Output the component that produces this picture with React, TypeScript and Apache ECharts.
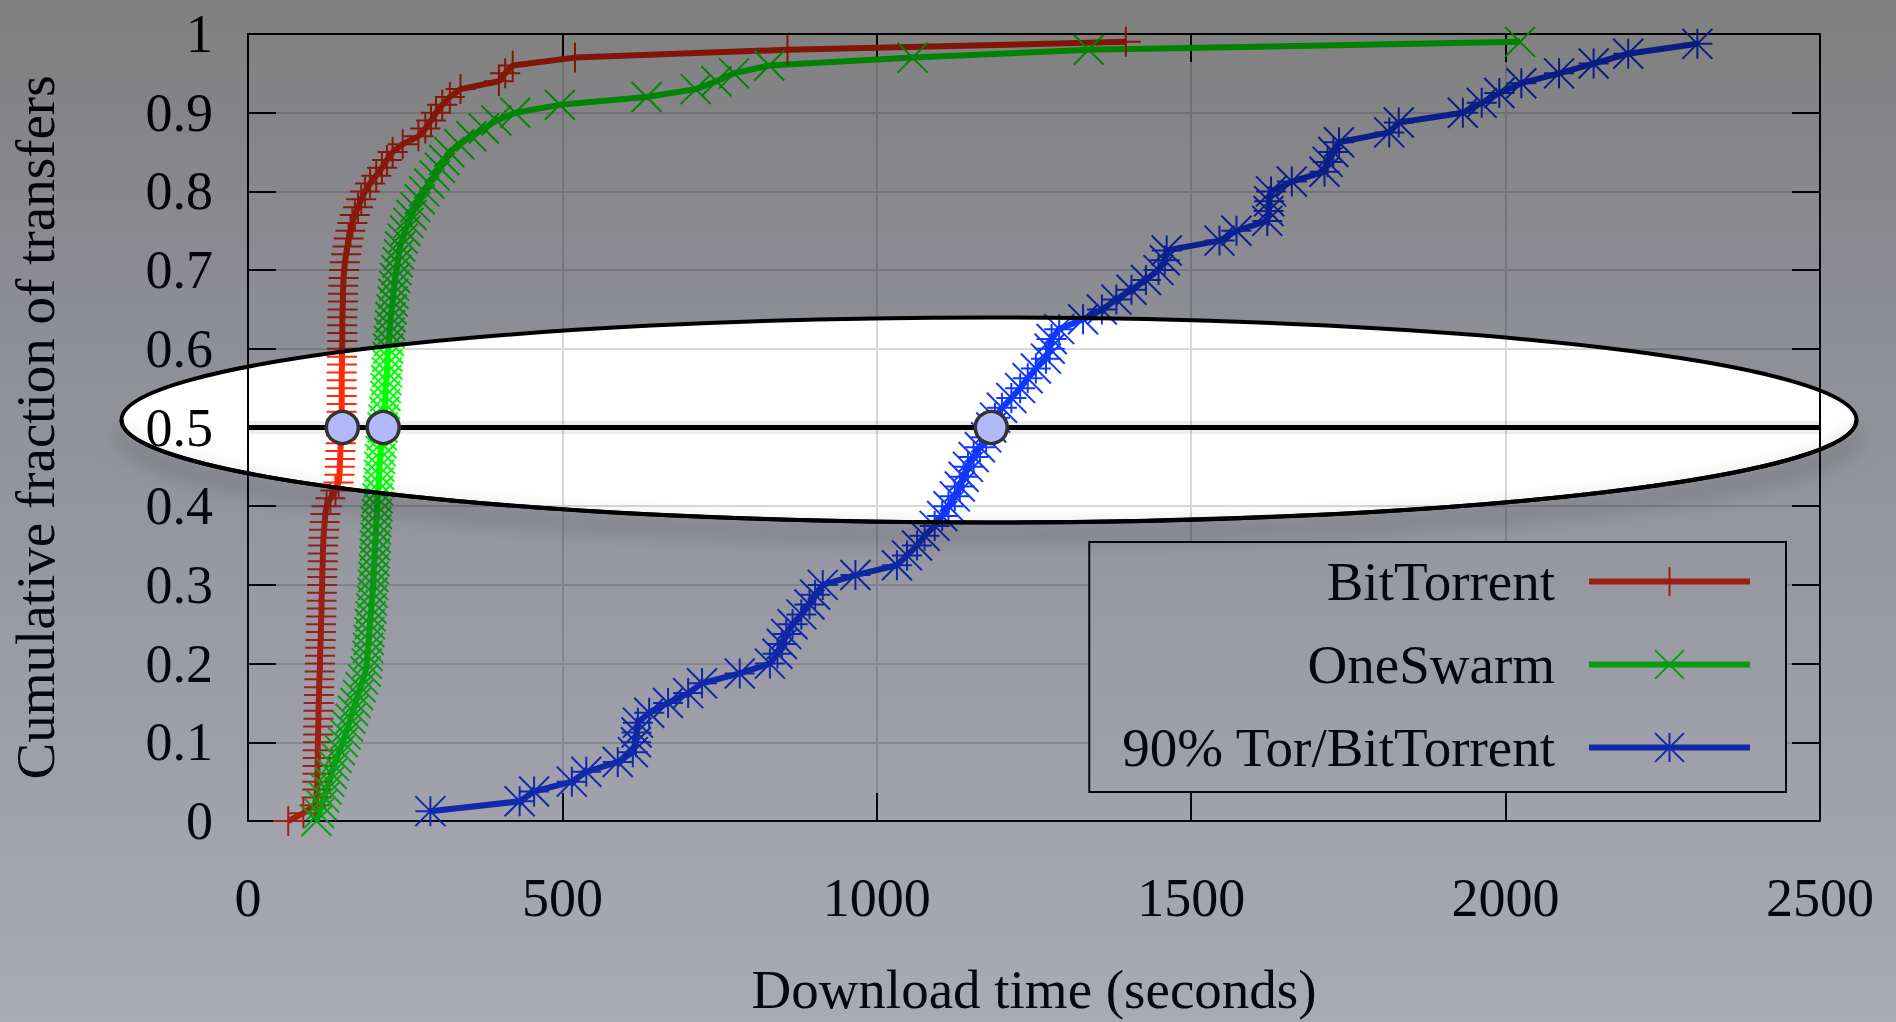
import React, { useEffect, useRef } from "react";
import * as echarts from "echarts";

// ---------- data ----------
const seriesNames = ["BitTorrent", "OneSwarm", "90% Tor/BitTorrent"];
const xTickMin = 0;
const xTickMax = 2500;
const xTickStep = 500;
const yTickMin = 0;
const yTickMax = 1;
const yTickStep = 0.1;

// [download time (s), cumulative fraction]
const bitTorrent: [number, number][] = [
  [64, 0], [88, 0.01], [106, 0.02], [109, 0.03], [110, 0.04], [110, 0.05], [110.5, 0.06], [110.5, 0.07], [111, 0.08], [111, 0.09],
  [111, 0.1], [111.5, 0.11], [111.5, 0.12], [112, 0.13], [112, 0.14], [112.5, 0.15], [113, 0.16], [113, 0.17], [113.5, 0.18], [114, 0.19],
  [114.5, 0.2], [114.5, 0.21], [115, 0.22], [115.5, 0.23], [116, 0.24], [116, 0.25], [116.5, 0.26], [117, 0.27], [117, 0.28], [117.5, 0.29],
  [118, 0.3], [118, 0.31], [118.5, 0.32], [119, 0.33], [119, 0.34], [119.5, 0.35], [120, 0.36], [121, 0.37], [122, 0.38], [123, 0.39],
  [125, 0.4], [131, 0.41], [139, 0.42], [144, 0.43], [145.5, 0.44], [146, 0.45], [146.5, 0.46], [147, 0.47], [147.5, 0.48], [148, 0.49],
  [148.5, 0.5], [148.5, 0.51], [149, 0.52], [149, 0.53], [149, 0.54], [149, 0.55], [149, 0.56], [149, 0.57], [149.5, 0.58], [149.5, 0.59],
  [149.5, 0.6], [150, 0.61], [150, 0.62], [150, 0.63], [150, 0.64], [150.5, 0.65], [151, 0.66], [151, 0.67], [151.5, 0.68], [152, 0.69],
  [153, 0.7], [154, 0.71], [156, 0.72], [158, 0.73], [160, 0.74], [163, 0.75], [166, 0.76], [170, 0.77], [175, 0.78], [180, 0.79],
  [186, 0.8], [194, 0.81], [204, 0.82], [213, 0.83], [221, 0.84], [230, 0.85], [246, 0.86], [271, 0.87], [282, 0.88], [291, 0.89],
  [299, 0.9], [309, 0.91], [321, 0.92], [338, 0.93], [399, 0.94], [409, 0.95], [421, 0.96], [520, 0.97], [858, 0.98], [1396, 0.99],
];

const oneSwarm: [number, number][] = [
  [109, 0], [113, 0.01], [117, 0.02], [121, 0.03], [125, 0.04], [129, 0.05], [133, 0.06], [137, 0.07], [141, 0.08], [146, 0.09],
  [151, 0.1], [155, 0.11], [159, 0.12], [163, 0.13], [167, 0.14], [171, 0.15], [175, 0.16], [179, 0.17], [183, 0.18], [187, 0.19],
  [189, 0.2], [190, 0.21], [191, 0.22], [192, 0.23], [193, 0.24], [194, 0.25], [195, 0.26], [196, 0.27], [197, 0.28], [198, 0.29],
  [199, 0.3], [199.5, 0.31], [200, 0.32], [201, 0.33], [201.5, 0.34], [202, 0.35], [203, 0.36], [203.5, 0.37], [204, 0.38], [205, 0.39],
  [205.5, 0.4], [206, 0.41], [207, 0.42], [208, 0.43], [208.5, 0.44], [209, 0.45], [210, 0.46], [211, 0.47], [212, 0.48], [213, 0.49],
  [214, 0.5], [215.5, 0.51], [217, 0.52], [218, 0.53], [218.5, 0.54], [219, 0.55], [220, 0.56], [221, 0.57], [221.5, 0.58], [222, 0.59],
  [223, 0.6], [224, 0.61], [225, 0.62], [226, 0.63], [227, 0.64], [228.5, 0.65], [230, 0.66], [231, 0.67], [232.5, 0.68], [234, 0.69],
  [236, 0.7], [238, 0.71], [240, 0.72], [242, 0.73], [246, 0.74], [250, 0.75], [255, 0.76], [260, 0.77], [266, 0.78], [273, 0.79],
  [280, 0.8], [288, 0.81], [297, 0.82], [305, 0.83], [312, 0.84], [320, 0.85], [336, 0.86], [355, 0.87], [375, 0.88], [395, 0.89],
  [425, 0.9], [496, 0.91], [634, 0.92], [712, 0.93], [745, 0.94], [773, 0.95], [829, 0.96], [1057, 0.97], [1337, 0.98], [2023, 0.99],
];

const torBitTorrent: [number, number][] = [
  [290, 0.0125], [432, 0.025], [455, 0.0375], [515, 0.05], [538, 0.0625], [588, 0.075], [612, 0.0875], [617, 0.1], [618, 0.1125], [620, 0.125],
  [638, 0.1375], [668, 0.15], [700, 0.1625], [722, 0.175], [782, 0.1875], [830, 0.2], [842, 0.2125], [849, 0.225], [856, 0.2375], [866, 0.25],
  [880, 0.2625], [893, 0.275], [902, 0.2875], [914, 0.3], [966, 0.3125], [1032, 0.325], [1048, 0.3375], [1064, 0.35], [1076, 0.3625], [1092, 0.375],
  [1104, 0.3875], [1114, 0.4], [1124, 0.4125], [1132, 0.425], [1138, 0.4375], [1145, 0.45], [1154, 0.4625], [1164, 0.475], [1174, 0.4875], [1182, 0.5],
  [1188, 0.5125], [1199, 0.525], [1214, 0.5375], [1228, 0.55], [1240, 0.5625], [1253, 0.575], [1269, 0.5875], [1275, 0.6], [1278, 0.6125], [1290, 0.625],
  [1328, 0.6375], [1358, 0.65], [1381, 0.6625], [1405, 0.675], [1428, 0.6875], [1448, 0.7], [1458, 0.7125], [1461, 0.725], [1545, 0.7375], [1572, 0.75],
  [1621, 0.7625], [1623, 0.775], [1624, 0.7875], [1627, 0.8], [1660, 0.8125], [1712, 0.825], [1717, 0.8375], [1726, 0.85], [1735, 0.8625], [1815, 0.875],
  [1830, 0.8875], [1932, 0.9], [1962, 0.9125], [1990, 0.925], [2025, 0.9375], [2085, 0.95], [2140, 0.9625], [2195, 0.975], [2305, 0.9875],
];

// median points highlighted on the 0.5 line
const medianLevel = 0.5;
const medianLine: [number, number][] = [[xTickMin, medianLevel], [xTickMax, medianLevel]];
const medians: [number, number][] = [[150, 0.5], [215, 0.5], [1182, 0.5]];

// ---------- styling ----------
const W = 1896;
const H = 1022;
const FONT = "'Liberation Serif', 'Times New Roman', Times, serif";
const RED = "#ff2a08";
const GREEN = "#00ff00";
const BLUE = "#1038ff";
const PLUS = "path://M5 0L5 10M0 5L10 5";
const CROSS = "path://M0 0L10 10M10 0L0 10";
const STAR = "path://M5 0L5 10M0 5L10 5M0 0L10 10M10 0L0 10";
const ELL = { cx: 989, cy: 420, rx: 867.5, ry: 102.5 };

function registerShapes() {
  const { cx, cy, rx, ry } = ELL;
  const hole =
    `M0 0 L${W} 0 L${W} ${H} L0 ${H} Z ` +
    `M${cx + rx} ${cy} A${rx} ${ry} 0 1 0 ${cx - rx} ${cy} A${rx} ${ry} 0 1 0 ${cx + rx} ${cy} Z`;
  echarts.graphic.registerShape("dimHole", echarts.graphic.extendPath(hole, {}));
  const lower = `M${cx - rx} ${cy} A${rx} ${ry} 0 0 0 ${cx + rx} ${cy}`;
  echarts.graphic.registerShape("ellipseLower", echarts.graphic.extendPath(lower, {}));
}

function lineSeries(name: string, data: [number, number][], color: string, symbol: string) {
  return {
    name,
    type: "line",
    data,
    clip: false,
    symbol,
    symbolSize: 30,
    smooth: false,
    lineStyle: { color, width: 6 },
    itemStyle: { color, borderColor: color, borderWidth: 2 },
    emphasis: { disabled: true },
    z: 3,
  };
}

export default function App() {
  const ref = useRef<HTMLDivElement>(null);

  useEffect(() => {
    if (!ref.current) return;
    registerShapes();
    const chart = echarts.init(ref.current, undefined, { renderer: "svg" });

    const axisCommon = {
      type: "value",
      axisLine: { show: true, onZero: false, lineStyle: { color: "#000", width: 2 } },
      axisTick: { show: true, inside: true, length: 28, lineStyle: { color: "#000", width: 2 } },
    };

    const overlayFill = new echarts.graphic.LinearGradient(0, 0, 0, 1, [
      { offset: 0, color: "rgba(0,0,0,0.5)" },
      { offset: 0.5, color: "rgba(15,15,40,0.44)" },
      { offset: 1, color: "rgba(20,20,45,0.36)" },
    ]);

    const option: any = {
      animation: false,
      backgroundColor: "#ffffff",
      textStyle: { fontFamily: FONT },
      grid: { left: 248, right: 76, top: 34, bottom: 201, containLabel: false, outerBoundsMode: "none" },
      xAxis: [
        {
          ...axisCommon,
          position: "bottom",
          min: xTickMin,
          max: xTickMax,
          interval: xTickStep,
          name: "Download time (seconds)",
          nameLocation: "middle",
          nameGap: 141,
          nameMoveOverlap: false,
          nameTextStyle: { fontFamily: FONT, fontSize: 55, color: "#000" },
          axisLabel: { show: true, margin: 50, fontFamily: FONT, fontSize: 54, color: "#000", formatter: (v: number) => String(v) },
          splitLine: { show: true, lineStyle: { color: "#d8d8d8", width: 2 } },
        },
        {
          ...axisCommon,
          position: "top",
          min: xTickMin,
          max: xTickMax,
          interval: xTickStep,
          axisLabel: { show: false },
          splitLine: { show: false },
        },
      ],
      yAxis: [
        {
          ...axisCommon,
          position: "left",
          min: yTickMin,
          max: yTickMax,
          interval: yTickStep,
          name: "Cumulative fraction of transfers",
          nameLocation: "middle",
          nameGap: 185,
          nameRotate: 90,
          nameMoveOverlap: false,
          nameTextStyle: { fontFamily: FONT, fontSize: 55, color: "#000" },
          axisLabel: { show: true, margin: 35, fontFamily: FONT, fontSize: 54, color: "#000", formatter: (v: number) => String(v) },
          splitLine: { show: true, lineStyle: { color: "#d8d8d8", width: 2 } },
        },
        {
          ...axisCommon,
          position: "right",
          min: yTickMin,
          max: yTickMax,
          interval: yTickStep,
          axisLabel: { show: false },
          splitLine: { show: false },
        },
      ],
      legend: {
        data: seriesNames,
        orient: "vertical",
        align: "right",
        right: 110,
        top: 542,
        padding: [12, 33, 17, 32],
        itemWidth: 161,
        itemHeight: 36,
        itemGap: 28,
        borderColor: "#000",
        borderWidth: 2,
        backgroundColor: "#ffffff",
        selectedMode: false,
        lineStyle: { width: 6 },
        itemStyle: { borderWidth: 2 },
        textStyle: { fontFamily: FONT, fontSize: 55, color: "#000", padding: [0, 29, 0, 0] },
      },
      series: [
        lineSeries(seriesNames[0], bitTorrent, RED, PLUS),
        lineSeries(seriesNames[1], oneSwarm, GREEN, CROSS),
        lineSeries(seriesNames[2], torBitTorrent, BLUE, STAR),
        {
          // faint halo under the median line
          name: "Median level shadow",
          type: "line",
          data: medianLine,
          symbol: "none",
          clip: false,
          z: 7,
          silent: true,
          lineStyle: { color: "rgba(0,0,0,0.07)", width: 13 },
          emphasis: { disabled: true },
        },
        {
          name: "Median level",
          type: "line",
          data: medianLine,
          symbol: "none",
          clip: false,
          z: 8,
          silent: true,
          lineStyle: { color: "#000", width: 5 },
          emphasis: { disabled: true },
        },
        {
          name: "Median",
          type: "scatter",
          data: medians,
          symbol: "circle",
          symbolSize: 32,
          clip: false,
          z: 10,
          silent: true,
          itemStyle: { color: "#b3b8fa", borderColor: "#333333", borderWidth: 3.5, opacity: 1 },
          emphasis: { disabled: true },
        },
      ],
      graphic: [
        { type: "dimHole", x: 0, y: 0, z: 100, silent: true, style: { fill: overlayFill } },
        {
          type: "ellipseLower",
          x: 0,
          y: 0,
          z: 101,
          silent: true,
          style: {
            fill: "none",
            stroke: "#000",
            lineWidth: 4,
            shadowBlur: 22,
            shadowOffsetY: 12,
            shadowColor: "rgba(0,0,0,0.6)",
          },
        },
        {
          type: "ellipse",
          z: 102,
          silent: true,
          shape: { cx: ELL.cx, cy: ELL.cy, rx: ELL.rx, ry: ELL.ry },
          style: { fill: "none", stroke: "#000", lineWidth: 4 },
        },
      ],
    };

    chart.setOption(option);
    return () => chart.dispose();
  }, []);

  return (
    <div
      ref={ref}
      style={{ position: "fixed", left: 0, top: 0, width: W, height: H, background: "#fff" }}
    />
  );
}
